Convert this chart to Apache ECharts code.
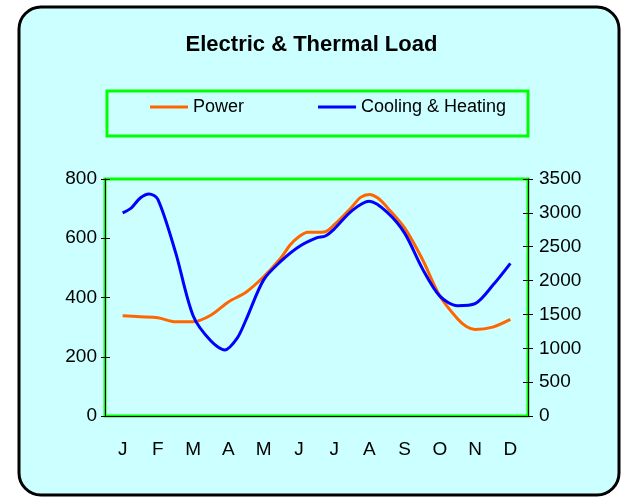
<!DOCTYPE html>
<html>
<head>
<meta charset="utf-8">
<script src="https://cdn.jsdelivr.net/npm/echarts@6/dist/echarts.min.js"></script>
<style>
html,body{margin:0;padding:0;background:#ffffff;}
#chart{width:623px;height:498px;}
</style>
</head>
<body>
<div id="chart"></div>
<script>
// ---- data ----
const months = ['J','F','M','A','M','J','J','A','S','O','N','D'];
const leftTicks = [0, 200, 400, 600, 800];
const rightTicks = [0, 500, 1000, 1500, 2000, 2500, 3000, 3500];

// position in months (0.5 = middle of January)
const powerMonth = [0.5,1.0,1.5,2.0,2.5,3.0,3.5,4.0,4.5,5.0,5.25,5.5,5.75,6.0,6.25,6.5,7.0,7.25,7.5,7.75,8.0,8.5,9.0,9.5,10.0,10.25,10.5,11.0,11.5];
const powerLoad  = [338,335,332,318,318,340,385,418,470,535,577,605,620,620,622,645,705,738,748,735,705,635,530,405,328,302,292,300,326];

const thermalMonth = [0.5,0.75,1.0,1.25,1.5,2.0,2.5,3.0,3.4,3.75,4.0,4.5,5.0,5.5,6.0,6.25,6.5,7.0,7.5,8.0,8.5,9.0,9.5,10.0,10.5,11.0,11.5];
const thermalLoad  = [3000,3075,3220,3280,3200,2420,1480,1110,975,1150,1420,2010,2290,2500,2630,2658,2760,3030,3170,3010,2700,2180,1770,1630,1660,1930,2255];

const FONT = "'Liberation Sans',Arial,sans-serif";

const chart = echarts.init(document.getElementById('chart'), null, {renderer:'canvas'});
const zip = (xs, ys) => xs.map((x, i) => [x, ys[i]]);

chart.setOption({
  backgroundColor: '#ffffff',
  animation: false,
  graphic: [{
    type: 'rect',
    z: -100,
    shape: {x: 19, y: 7, width: 600, height: 488, r: 22},
    style: {fill: '#ccffff', stroke: '#000000', lineWidth: 3}
  }, {
    type: 'rect',
    z: -90,
    shape: {x: 107, y: 91, width: 421, height: 45},
    style: {fill: 'transparent', stroke: '#00ff00', lineWidth: 3}
  }],
  title: {
    text: 'Electric & Thermal Load',
    left: 'center',
    top: 29,
    textStyle: {fontFamily: FONT, fontWeight: 'bold', fontSize: 22, color: '#000'}
  },
  legend: {
    left: 150,
    top: 98,
    padding: 0,
    itemGap: 74,
    itemWidth: 38,
    itemHeight: 3,
    icon: 'rect',
    textStyle: {fontFamily: FONT, fontSize: 18, color: '#000'},
    data: ['Power', 'Cooling & Heating']
  },
  grid: {
    left: 105, right: 95, top: 179, bottom: 82,
    show: true, borderColor: '#00ff00', borderWidth: 3, backgroundColor: 'transparent'
  },
  xAxis: [
    {
      type: 'category', data: months, boundaryGap: true, position: 'bottom',
      axisLine: {lineStyle: {color: '#000', width: 1}},
      axisTick: {length: 7, interval: 0, lineStyle: {color: '#000'}},
      axisLabel: {fontFamily: FONT, fontSize: 19, color: '#000', margin: 24, interval: 0},
      splitLine: {show: false}
    },
    {
      type: 'category', data: months, boundaryGap: true, position: 'bottom',
      axisLine: {show: false},
      axisTick: {inside: true, length: 7, interval: 0, lineStyle: {color: '#000'}},
      axisLabel: {show: false},
      splitLine: {show: false}
    },
    {type: 'value', min: 0, max: 12, show: false}
  ],
  yAxis: [
    {
      type: 'value', position: 'left', min: leftTicks[0], max: leftTicks[leftTicks.length-1], interval: 200,
      axisLine: {show: true, lineStyle: {color: '#000', width: 1}},
      axisTick: {show: true, length: 4, lineStyle: {color: '#000'}},
      axisLabel: {fontFamily: FONT, fontSize: 19, color: '#000', margin: 8, formatter: v => String(v)},
      splitLine: {show: false}
    },
    {
      type: 'value', position: 'right', min: rightTicks[0], max: rightTicks[rightTicks.length-1], interval: 500,
      axisLine: {show: true, lineStyle: {color: '#000', width: 1}},
      axisTick: {show: true, length: 5, lineStyle: {color: '#000'}},
      axisLabel: {fontFamily: FONT, fontSize: 19, color: '#000', margin: 11, formatter: v => String(v)},
      splitLine: {show: false}
    },
    {
      type: 'value', position: 'left', min: 0, max: 800, interval: 200,
      axisLine: {show: false}, axisLabel: {show: false}, splitLine: {show: false},
      axisTick: {show: true, inside: true, length: 5, lineStyle: {color: '#000'}}
    },
    {
      type: 'value', position: 'right', min: 0, max: 3500, interval: 500,
      axisLine: {show: false}, axisLabel: {show: false}, splitLine: {show: false},
      axisTick: {show: true, inside: true, length: 5, lineStyle: {color: '#000'}}
    }
  ],
  series: [
    {
      name: 'Power', type: 'line', xAxisIndex: 2, yAxisIndex: 0,
      data: zip(powerMonth, powerLoad),
      smooth: 0.3, symbol: 'none',
      itemStyle: {color: '#ff6600'},
      lineStyle: {color: '#ff6600', width: 3}
    },
    {
      name: 'Cooling & Heating', type: 'line', xAxisIndex: 2, yAxisIndex: 1,
      data: zip(thermalMonth, thermalLoad),
      smooth: 0.3, symbol: 'none',
      itemStyle: {color: '#0000ff'},
      lineStyle: {color: '#0000ff', width: 3}
    }
  ]
});
</script>
</body>
</html>
